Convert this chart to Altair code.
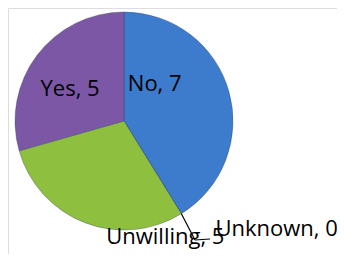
import altair as alt
import pandas as pd
import numpy as np

categories = ["No", "Unknown", "Unwilling", "Yes"]
values = [7, 0, 5, 5]
colors = ["#3d7ccc", "#c0504d", "#8fbf3f", "#7b57a6"]

df = pd.DataFrame({"cat": categories, "val": values, "ord": list(range(len(categories)))})
df["label"] = [f"{c}, {v}" for c, v in zip(categories, values)]

CX, CY, R = 116, 113, 109

base = alt.Chart(df).encode(
    theta=alt.Theta("val:Q", stack=True),
    order=alt.Order("ord:Q"),
)

pie = base.mark_arc(outerRadius=R, stroke="#2e3e5e", strokeWidth=0.6, strokeOpacity=0.6).encode(
    x=alt.value(CX), y=alt.value(CY),
    color=alt.Color("cat:N", scale=alt.Scale(domain=categories, range=colors), legend=None),
)

offsets = {"No": (-27, -21), "Unknown": (121, 57), "Unwilling": (63, 60), "Yes": (-6, 4)}
layers = [pie]
for c in categories:
    dx, dy = offsets[c]
    layers.append(
        base.mark_text(radius=60, font="Open Sans", fontSize=22, color="black", dx=dx, dy=dy,
                       align="center", baseline="middle")
        .encode(x=alt.value(CX), y=alt.value(CY),
                text=alt.condition(alt.datum.cat == c, "label:N", alt.value("")))
    )

# leader line for the zero slice: drawn as two rules from its angle on the rim
cum = np.cumsum([0] + values)
ang = cum[categories.index("Unknown")] / sum(values) * 2 * np.pi
sx, sy = CX + R * np.sin(ang), CY - R * np.cos(ang)
leader1 = alt.Chart(df.head(1)).mark_rule(color="black", strokeWidth=1.2).encode(
    x=alt.value(float(sx)), y=alt.value(float(sy)),
    x2=alt.value(CX + 71), y2=alt.value(CY + 119),
)
leader2 = alt.Chart(df.head(1)).mark_rule(color="black", strokeWidth=1.2).encode(
    x=alt.value(CX + 71), y=alt.value(CY + 119),
    x2=alt.value(CX + 86), y2=alt.value(CY + 118),
)
layers.insert(1, leader1)
layers.insert(2, leader2)

chart = alt.layer(*layers).properties(
    width=329, height=246, autosize=alt.AutoSizeParams(type="none"), padding=0
).configure_view(stroke=None, strokeWidth=0).configure(background="transparent")

chart.save("out.html", embed_options={"renderer": "svg", "actions": False})
